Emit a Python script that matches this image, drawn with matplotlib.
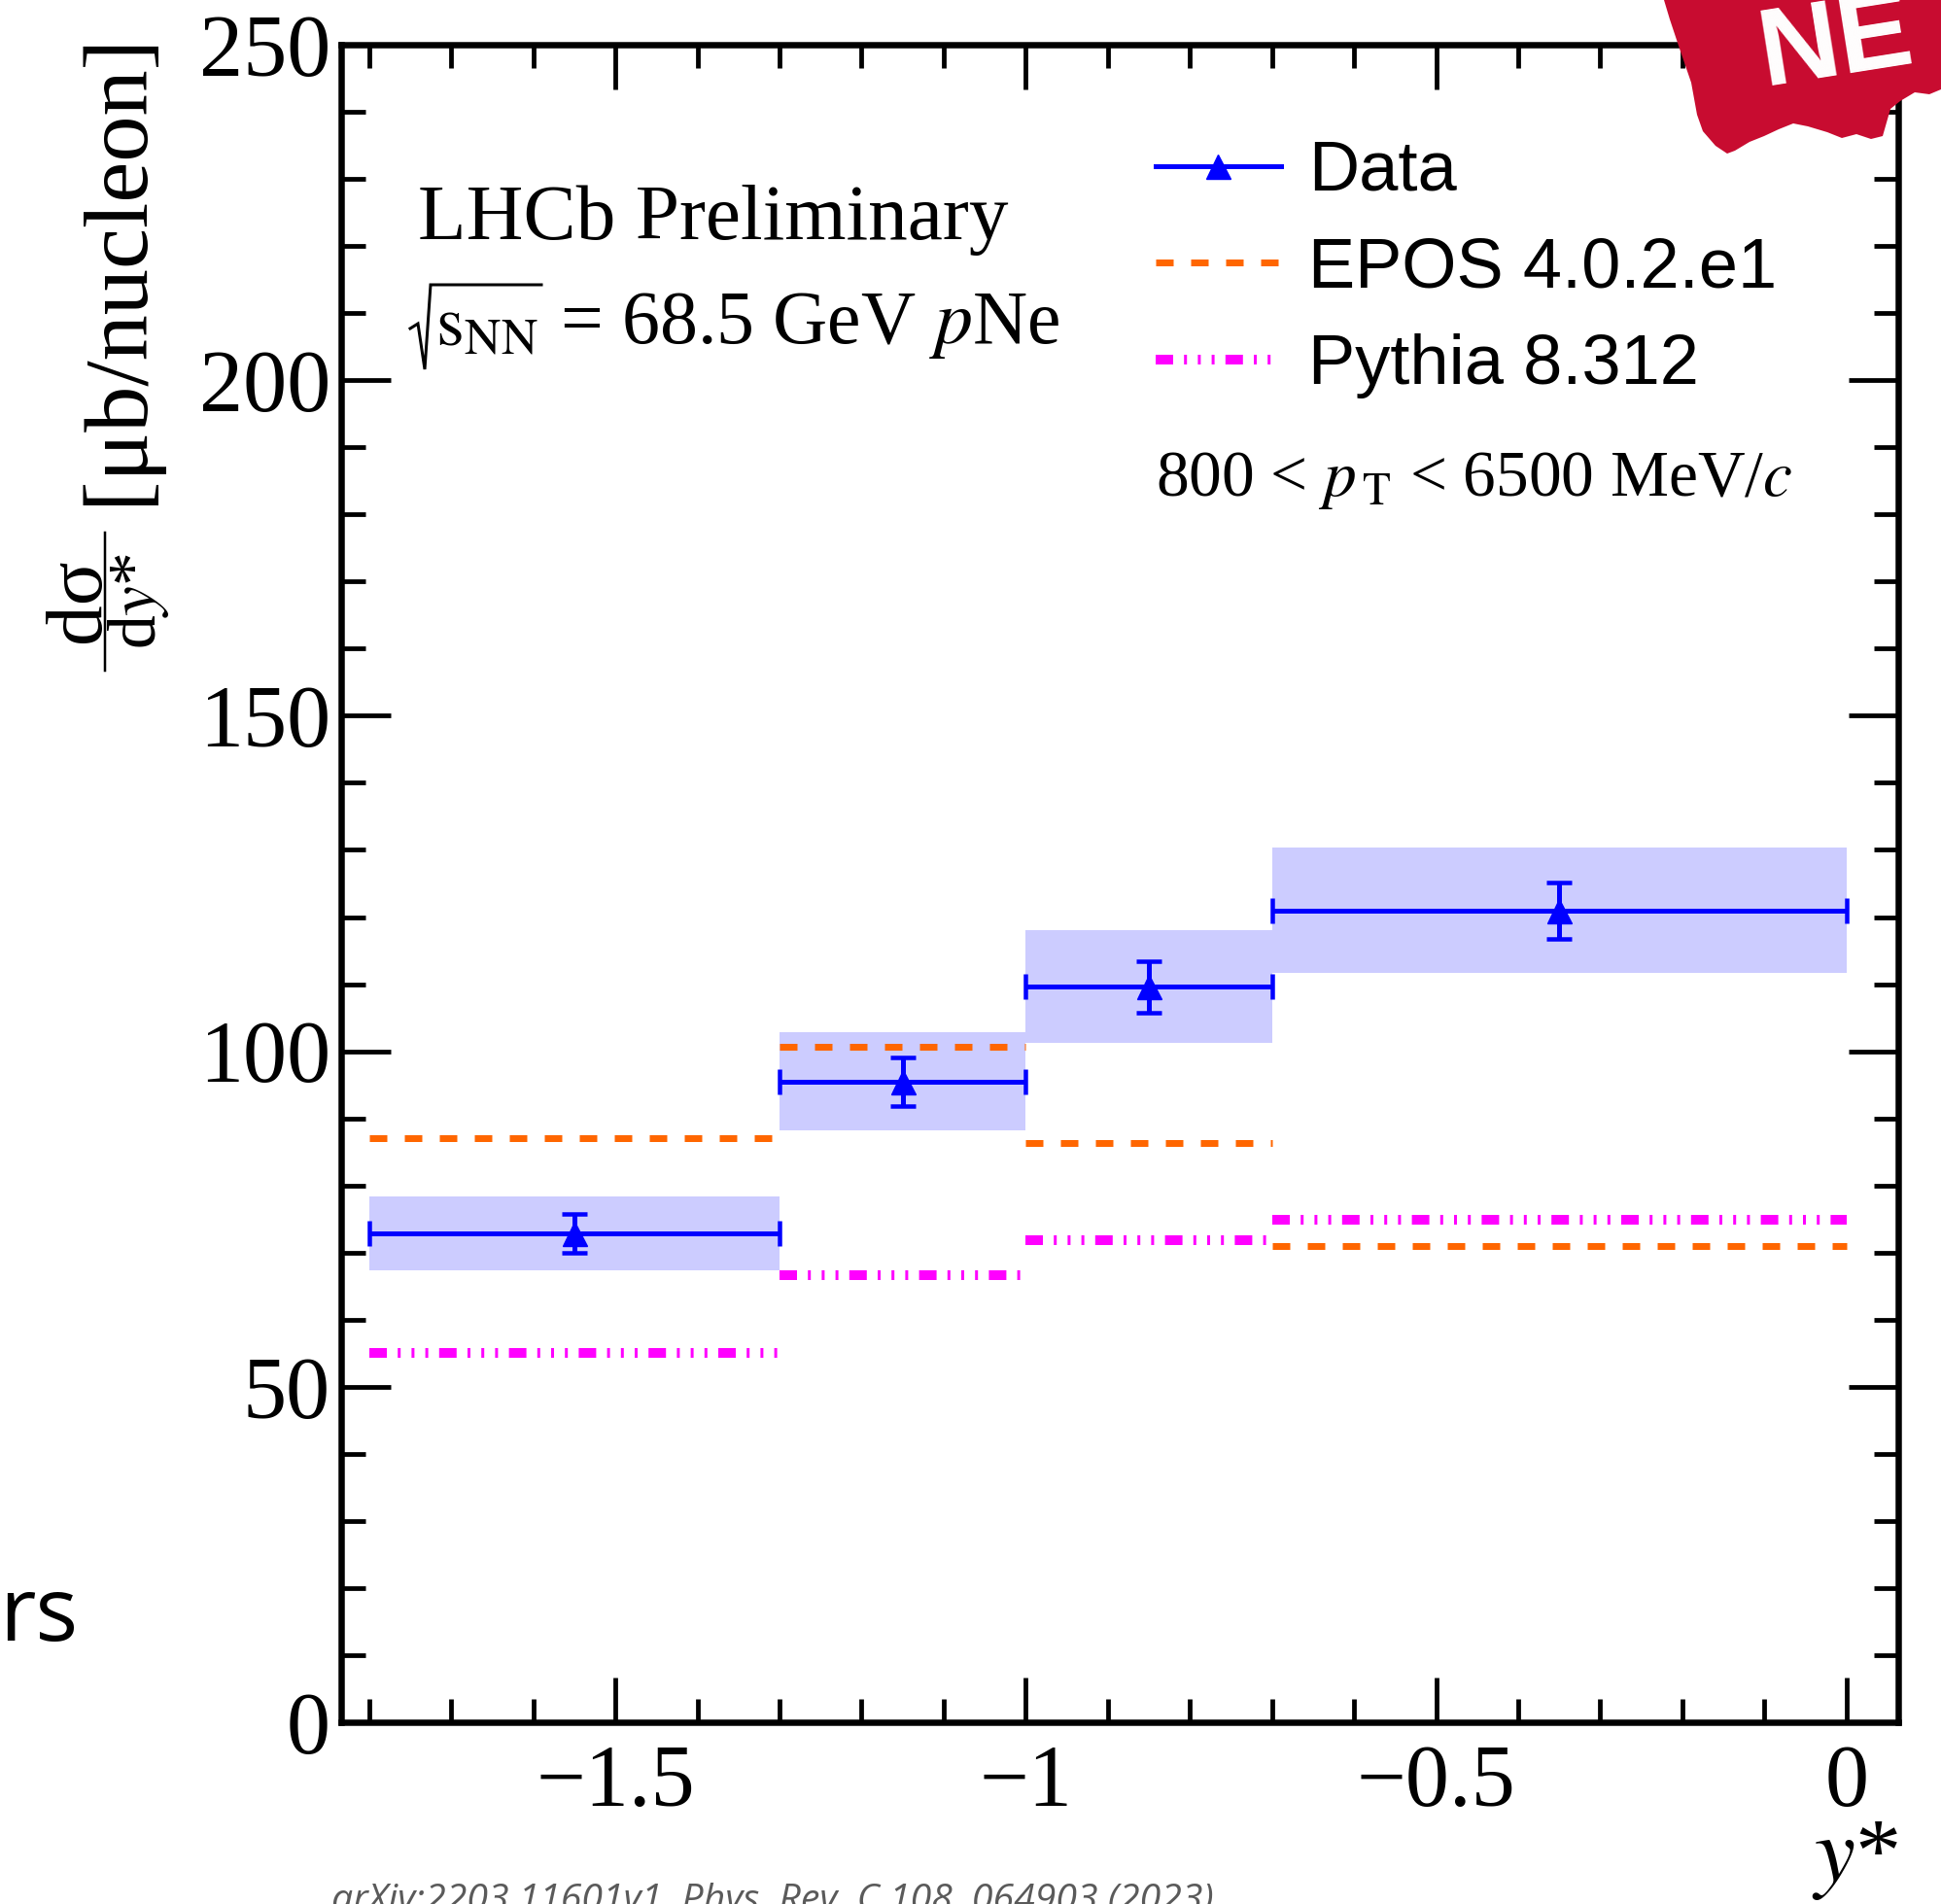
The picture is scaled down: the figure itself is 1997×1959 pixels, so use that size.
import matplotlib
matplotlib.use("Agg")
import matplotlib.pyplot as plt
from matplotlib.lines import Line2D
from matplotlib.patches import Polygon
from matplotlib.ticker import MultipleLocator, FixedLocator, FixedFormatter

# ---- data -----------------------------------------------------------------
bin_edges = [-1.8, -1.3, -1.0, -0.7, 0.0]
bin_centres = [-1.55, -1.15, -0.85, -0.35]
data_vals = [72.9, 95.5, 109.6, 121.0]
data_stat = [2.9, 3.6, 3.85, 4.2]
data_syst = [5.5, 7.3, 8.4, 9.3]
epos_vals = [87.0, 100.7, 86.3, 71.0]
pythia_vals = [55.1, 66.7, 71.8, 74.9]

xtick_vals = [-1.5, -1.0, -0.5, 0.0]
xtick_labels = ["\u22121.5", "\u22121", "\u22120.5", "0"]
ytick_vals = [0, 50, 100, 150, 200, 250]
ytick_labels = ["0", "50", "100", "150", "200", "250"]

legend_labels = ["Data", "EPOS 4.0.2.e1", "Pythia 8.312"]

# ---- style ----------------------------------------------------------------
plt.rcParams["font.family"] = ["Liberation Serif", "DejaVu Serif"]
plt.rcParams["mathtext.fontset"] = "stix"
plt.rcParams["lines.scale_dashes"] = False

W, H = 1997, 1959
DPI = 100
PX = 72.0 / DPI  # points per pixel


def fx(px):
    return px / W


def fy(py):
    return 1 - py / H


fig = plt.figure(figsize=(W / DPI, H / DPI), dpi=DPI)
ax = fig.add_axes([fx(351), fy(1772), (1953 - 351) / W, (1772 - 46) / H])

BLUE = "#0000ff"
BAND = "#ccccff"
ORANGE = "#ff6600"
MAGENTA = "#ff00ff"

epos_dash = (0, (18 * PX, 18 * PX))
pythia_dash = (0, (18 * PX, 11.2 * PX, 3 * PX, 11.2 * PX, 3 * PX, 11.2 * PX, 3 * PX, 11.2 * PX))

# systematic bands
lefts = bin_edges[:-1]
widths = [b - a for a, b in zip(bin_edges[:-1], bin_edges[1:])]
ax.bar(lefts, [2 * s for s in data_syst],
       bottom=[v - s for v, s in zip(data_vals, data_syst)],
       width=widths, align="edge", color=BAND, linewidth=0, zorder=1)

# model predictions, one segment per bin
ax.hlines(epos_vals, bin_edges[:-1], bin_edges[1:], colors=ORANGE,
          linewidth=7 * PX, linestyles=[epos_dash], zorder=2)
ax.hlines(pythia_vals, bin_edges[:-1], bin_edges[1:], colors=MAGENTA,
          linewidth=10 * PX, linestyles=[pythia_dash], zorder=2)

# measured points
xerr_lo = [c - a for c, a in zip(bin_centres, bin_edges[:-1])]
xerr_hi = [b - c for c, b in zip(bin_centres, bin_edges[1:])]
ax.errorbar(bin_centres, data_vals, xerr=[xerr_lo, xerr_hi], yerr=data_stat,
            fmt="^", color=BLUE, ms=25 * PX, elinewidth=5 * PX,
            capsize=13 * PX, capthick=4.5 * PX, zorder=4)

# ---- axes -----------------------------------------------------------------
ax.set_xlim(-1.834, 0.063)
ax.set_ylim(0, 250)
ax.xaxis.set_major_locator(FixedLocator(xtick_vals))
ax.xaxis.set_major_formatter(FixedFormatter(xtick_labels))
ax.xaxis.set_minor_locator(MultipleLocator(0.1))
ax.yaxis.set_major_locator(FixedLocator(ytick_vals))
ax.yaxis.set_major_formatter(FixedFormatter(ytick_labels))
ax.yaxis.set_minor_locator(MultipleLocator(10))

for sp in ax.spines.values():
    sp.set_linewidth(6.5 * PX)

ax.tick_params(which="both", direction="in", top=True, right=True,
               width=4.8 * PX, labelsize=65)
ax.tick_params(axis="x", which="major", length=46 * PX, pad=16)
ax.tick_params(axis="x", which="minor", length=24 * PX)
ax.tick_params(axis="y", which="major", length=51 * PX, pad=8)
ax.tick_params(axis="y", which="minor", length=25 * PX)

# y-axis title, reading upwards: d(sigma)/dy* followed by the unit
rot = dict(rotation=90, rotation_mode="anchor")
fig.text(fx(102), fy(618), "d\u03c3", fontsize=60, ha="center",
         va="baseline", **rot)
fig.add_artist(Line2D([fx(108), fx(108)], [fy(548), fy(690)],
                      transform=fig.transFigure, color="black", lw=2.5 * PX))
fig.text(fx(160), fy(618), r"d$y$*", fontsize=50, ha="center",
         va="baseline", **rot)
fig.text(fx(145), fy(33), "[\u03bcb/nucleon]", fontsize=68, ha="right",
         va="baseline", **rot)

ax.set_xlabel(r"$y$*", fontsize=68, loc="right", va="baseline")
ax.xaxis.set_label_coords(1.0, -0.0944)

# ---- legend ---------------------------------------------------------------
handles = [
    Line2D([], [], color=BLUE, lw=5 * PX, marker="^", ms=25 * PX),
    Line2D([], [], color=ORANGE, lw=7 * PX, linestyle=epos_dash),
    Line2D([], [], color=MAGENTA, lw=10 * PX, linestyle=pythia_dash),
]
ax.legend(handles, legend_labels, loc="upper left",
          bbox_to_anchor=(fx(1189), fy(144)), bbox_transform=fig.transFigure,
          frameon=False, borderpad=0, borderaxespad=0,
          prop={"family": "Liberation Sans", "size": 52},
          handlelength=1.78, handletextpad=0.4, labelspacing=0.45)

# ---- annotations ----------------------------------------------------------
fig.text(fx(430), fy(246), "LHCb Preliminary", fontsize=58.5, va="baseline")

# sqrt(s_NN): radical sign drawn as a path, argument as text
radical_px = [(422, 338), (430, 333), (437, 380), (443, 293), (557, 293)]
fig.add_artist(Line2D([fx(x) for x, _ in radical_px],
                      [fy(y) for _, y in radical_px],
                      transform=fig.transFigure, color="black",
                      lw=3 * PX, solid_joinstyle="miter"))
fig.text(fx(448), fy(356), r"$\mathrm{s}_{\mathrm{NN}}$", fontsize=53,
         va="baseline")
fig.text(fx(576), fy(353), r"= 68.5 GeV $p$Ne", fontsize=56, va="baseline")
fig.text(fx(1189), fy(510), r"800 < $p_{\,\mathrm{T}}$ < 6500 MeV/$c$",
         fontsize=48.5, va="baseline")

fig.text(fx(-1), fy(1688), "rs", fontsize=66, family="Open Sans",
         va="baseline")
fig.text(fx(341), fy(1966),
         "arXiv:2203.11601v1, Phys. Rev. C 108, 064903 (2023)",
         fontsize=28.3, family="Open Sans", style="italic", color="#5a5a5a",
         va="baseline")

# "NEW" stamp in the top right corner
stamp_px = [(1712, 0), (1997, 0), (1997, 92), (1985, 97), (1970, 95),
            (1955, 104), (1945, 112), (1937, 140), (1925, 143), (1910, 138),
            (1895, 142), (1880, 136), (1860, 130), (1845, 127), (1830, 133),
            (1815, 140), (1800, 146), (1785, 155), (1777, 158), (1765, 150),
            (1752, 135), (1746, 118), (1740, 85), (1728, 50), (1718, 20)]
fig.add_artist(Polygon([(fx(x), fy(y)) for x, y in stamp_px], closed=True,
                       transform=fig.transFigure, facecolor="#c80c30",
                       edgecolor="none", zorder=10))
fig.text(fx(1815), fy(88), "NE", fontsize=82, family="Liberation Sans",
         weight="bold", color="white", rotation=9, rotation_mode="anchor",
         ha="left", va="baseline", zorder=11)

fig.savefig("out.png", dpi=DPI)
